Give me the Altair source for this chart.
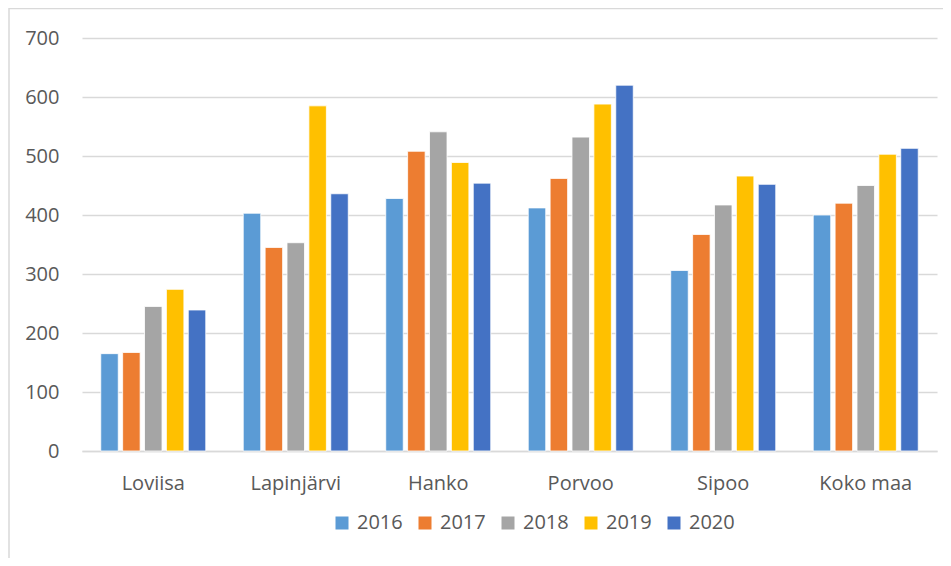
import altair as alt
import pandas as pd

categories = ["Loviisa", "Lapinjärvi", "Hanko", "Porvoo", "Sipoo", "Koko maa"]
years = ["2016", "2017", "2018", "2019", "2020"]
v2016 = [165, 403, 428, 412, 306, 400]
v2017 = [167, 345, 508, 462, 367, 420]
v2018 = [245, 353, 541, 532, 417, 450]
v2019 = [274, 585, 489, 588, 466, 503]
v2020 = [239, 436, 454, 620, 452, 513]
colors = ["#5b9bd5", "#ed7d31", "#a5a5a5", "#ffc000", "#4472c4"]
y_ticks = [0, 100, 200, 300, 400, 500, 600, 700]

series = [v2016, v2017, v2018, v2019, v2020]
rows = []
for yr, vals in zip(years, series):
    for cat, v in zip(categories, vals):
        rows.append({"Alue": cat, "Vuosi": yr, "Arvo": v})
df = pd.DataFrame(rows)

TEXT = "#595959"
GRID = "#d9d9d9"

frame = alt.Chart(pd.DataFrame({"a": [0]})).mark_rect(
    filled=False, stroke=GRID, strokeWidth=1.5
).encode(
    x=alt.value(-73), x2=alt.value(1000), y=alt.value(-29.5), y2=alt.value(700)
)

bars = alt.Chart(df).mark_bar(stroke="white", strokeWidth=0.8).encode(
    x=alt.X(
        "Alue:N",
        sort=categories,
        scale=alt.Scale(paddingInner=0.263, paddingOuter=0.1316),
        axis=alt.Axis(
            title=None, labelAngle=0, ticks=False, domainColor=GRID,
            domainWidth=1.5, labelFontSize=20, labelColor=TEXT, labelPadding=22,
        ),
    ),
    xOffset=alt.XOffset("Vuosi:N", sort=years, scale=alt.Scale(paddingInner=0.2, paddingOuter=0)),
    y=alt.Y(
        "Arvo:Q",
        scale=alt.Scale(domain=[0, 700], nice=False),
        axis=alt.Axis(
            values=y_ticks, title=None, domain=False, ticks=False, gridColor=GRID,
            gridWidth=1.3, labelFontSize=20, labelColor=TEXT, labelPadding=23,
        ),
    ),
    color=alt.Color(
        "Vuosi:N",
        sort=years,
        scale=alt.Scale(domain=years, range=colors),
        legend=alt.Legend(
            title=None, orient="none", direction="horizontal", legendX=250, legendY=475,
            symbolType="square", symbolSize=169, symbolStrokeWidth=0,
            labelFontSize=20, labelColor=TEXT, labelOffset=5, columnPadding=12,
        ),
    ),
)

chart = alt.layer(frame, bars).properties(
    width=855, height=413,
    autosize=alt.AutoSizeParams(type="none"),
    padding={"left": 74, "top": 30, "right": 6, "bottom": 107},
).configure(font="Open Sans").configure_view(stroke=None)

chart.save("out.html", embed_options={"renderer": "svg", "actions": False})
